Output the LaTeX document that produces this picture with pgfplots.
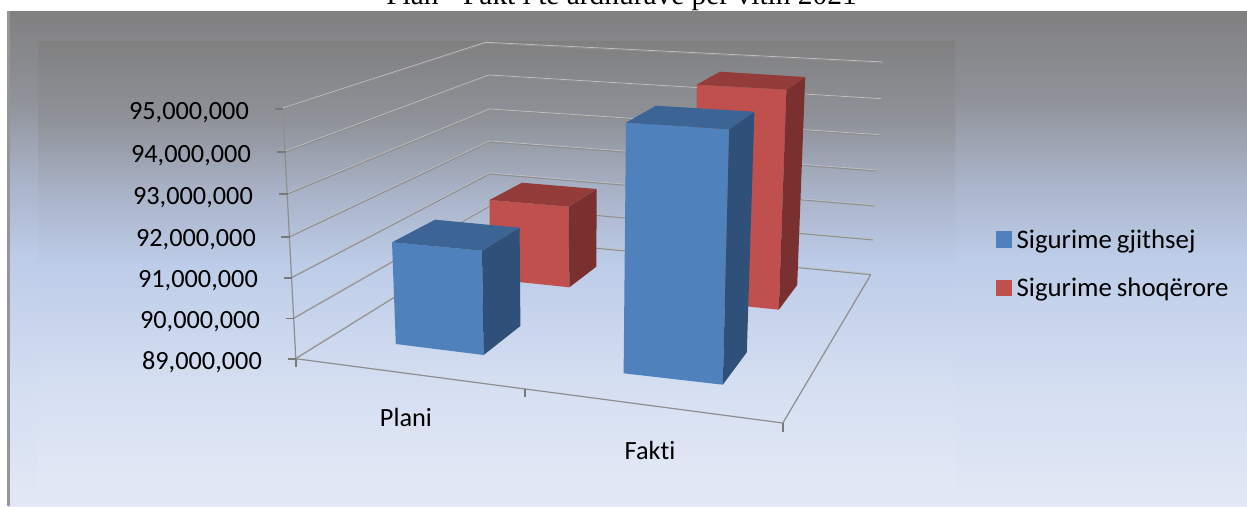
\documentclass[border=0pt]{standalone}
\usepackage{fontspec}
\usepackage{pgfplots}
\pgfplotsset{compat=1.18}
\setmainfont[Ligatures=NoCommon]{Carlito}
\newfontfamily\titlefont{Liberation Serif}

\definecolor{bluefront}{HTML}{4F81BD}
\definecolor{bluetop}{HTML}{3C6494}
\definecolor{blueside}{HTML}{2F5078}
\definecolor{redfront}{HTML}{C0504D}
\definecolor{redtop}{HTML}{943C3A}
\definecolor{redside}{HTML}{7A302E}
\definecolor{gridc}{HTML}{8E8E8E}

\pgfdeclareverticalshading{panel}{100bp}{
  color(0bp)=(white);
  rgb(25bp)=(0.886,0.910,0.961);
  rgb(35.7bp)=(0.839,0.878,0.949);
  rgb(50bp)=(0.741,0.800,0.910);
  rgb(58bp)=(0.663,0.702,0.784);
  rgb(66bp)=(0.561,0.573,0.600);
  rgb(75bp)=(0.502,0.502,0.502);
  rgb(100bp)=(0.502,0.502,0.502)}

% one wall gridline: pale highlight over a grey line
\newcommand{\gridline}[1]{
  \addplot[white!45!gridc, line width=0.8pt, yshift=1pt] coordinates {#1};
  \addplot[gridc, line width=1pt] coordinates {#1};
}
\newcommand{\tickmark}[1]{\addplot[gridc!85!black, line width=1.6pt] coordinates {#1};}
\newcommand{\lab}{\fontsize{26.3}{26.3}\selectfont}

\begin{document}
\begin{tikzpicture}
\useasboundingbox (0,0) rectangle (1247pt,506pt);
\begin{axis}[
    at={(0,0)}, anchor=south west,
    scale only axis, width=1247pt, height=506pt,
    xmin=0, xmax=1247, ymin=0, ymax=506,
    y dir=reverse, hide axis, clip=false,
    legend style={at={(axis cs:996,263.5)}, anchor=west, draw=none, fill=none,
      font=\fontsize{26.8}{26.8}\selectfont, row sep=28pt, inner xsep=0pt, inner ysep=0pt,
      nodes={inner xsep=5pt, inner ysep=0pt}},
    legend cell align=left,
    legend image code/.code={\fill[#1] (0pt,-7.8pt) rectangle (15pt,7.8pt);},
]
\addlegendimage{bluefront}
\addlegendentry{Sigurime\hspace{5pt}gjithsej}
\addlegendimage{redfront}
\addlegendentry{Sigurime\hspace{5pt}shoqërore}

% backgrounds
\addplot[draw=none, shading=panel] coordinates {(8,11) (1247,11) (1247,506) (8,506)} -- cycle;
\addplot[draw=none, shading=panel] coordinates {(38,41) (955,41) (955,487) (38,487)} -- cycle;
\addplot[color={rgb,255:red,150;green,150;blue,150}, line width=3pt] coordinates {(8.5,11) (8.5,506)};

% back wall and side wall gridlines, 95M down to 90M
\gridline{(282.7,109) (485.6,43.3) (883.2,63)}
\gridline{(285.5,152) (488.7,76) (881.2,99.7)}
\gridline{(287.5,194) (489.5,110) (879.2,135.7)}
\gridline{(290,236.7) (489.5,142) (876.4,171)}
\gridline{(291.8,277.7) (489.5,174) (874.8,206)}
\gridline{(293.8,318.3) (490,206) (873.2,240)}
% floor
\gridline{(295.8,358.7) (490,238) (870.8,274.7)}
\addplot[gridc, line width=1.2pt] coordinates {(282.7,109) (295.8,358.7) (782.8,423) (870.8,274.7)};

% ticks
\tickmark{(275,109) (283,109)}
\tickmark{(277,152) (286,152)}
\tickmark{(279,194) (288,194)}
\tickmark{(281,236.7) (290,236.7)}
\tickmark{(284,277.7) (292,277.7)}
\tickmark{(286,318.3) (294,318.3)}
\tickmark{(288,358.7) (296,358.7)}
\tickmark{(295.8,358.7) (295.8,366.7)}
\tickmark{(525,389) (525,397)}
\tickmark{(782.8,423) (782.8,431.7)}

% red Plani (about 92.3M)
\addplot[fill=redfront, draw=none] coordinates {(489.5,200) (568.6,206.7) (569.4,287.3) (490,279)} -- cycle;
\addplot[fill=redside, draw=none] coordinates {(568.6,206.7) (596.7,189) (596.3,266.7) (569.4,287.3)} -- cycle;
\addplot[fill=redtop, draw=none] coordinates {(489.5,200) (522,182.7) (596.7,189) (568.6,206.7)} -- cycle;
% red Fakti (about 95M)
\addplot[fill=redfront, draw=none] coordinates {(696.8,84.7) (786.4,89.7) (778.8,309.7) (694,301)} -- cycle;
\addplot[fill=redside, draw=none] coordinates {(786.4,89.7) (805.2,77) (797.2,285) (778.8,309.7)} -- cycle;
\addplot[fill=redtop, draw=none] coordinates {(696.8,84.7) (720,71.7) (805.2,77) (786.4,89.7)} -- cycle;
% blue Plani (about 91.4M)
\addplot[fill=bluefront, draw=none] coordinates {(392,242.3) (482,250.7) (483.6,355) (395.8,344)} -- cycle;
\addplot[fill=blueside, draw=none] coordinates {(482,250.7) (519.6,227.7) (520.4,326) (483.6,355)} -- cycle;
\addplot[fill=bluetop, draw=none] coordinates {(392,242.3) (435,219.7) (519.6,227.7) (482,250.7)} -- cycle;
% blue Fakti (about 94.8M)
\addplot[fill=bluefront, draw=none] coordinates {(626,122.7) (729.2,129.3) (722.8,384.7) (623.6,373.3)} -- cycle;
\addplot[fill=blueside, draw=none] coordinates {(729.2,129.3) (754.4,111.7) (746.8,352.3) (722.8,384.7)} -- cycle;
\addplot[fill=bluetop, draw=none] coordinates {(626,122.7) (656,105.7) (754.4,111.7) (729.2,129.3)} -- cycle;

% tick labels
\tikzset{lbl/.style={font=\lab, inner sep=0pt, text=black}}
\node[lbl, anchor=base east] at (axis cs:249,119) {95,000,000};
\node[lbl, anchor=base east] at (axis cs:251,162) {94,000,000};
\node[lbl, anchor=base east] at (axis cs:253,204) {93,000,000};
\node[lbl, anchor=base east] at (axis cs:256,246) {92,000,000};
\node[lbl, anchor=base east] at (axis cs:258,287) {91,000,000};
\node[lbl, anchor=base east] at (axis cs:260,328) {90,000,000};
\node[lbl, anchor=base east] at (axis cs:262,369) {89,000,000};
\node[lbl, anchor=base] at (axis cs:406,426) {Plani};
\node[lbl, anchor=base] at (axis cs:650,459) {Fakti};
\node[anchor=base, inner sep=0pt, font=\titlefont\fontsize{29.4}{29.4}\selectfont] at (axis cs:621.5,4.5) {Plan - Fakt i te ardhurave per vitin 2021};
\end{axis}
\end{tikzpicture}
\end{document}
